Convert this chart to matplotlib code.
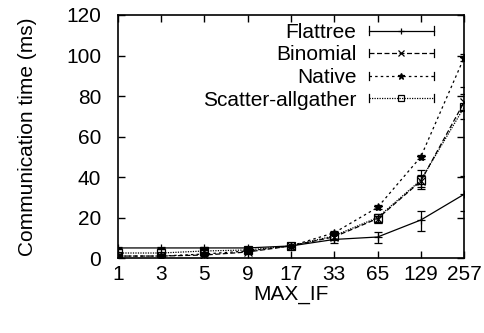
import matplotlib.pyplot as plt
import numpy as np
from matplotlib.legend_handler import HandlerLine2D
from matplotlib.lines import Line2D

plt.rcParams['font.family'] = ['Liberation Sans', 'DejaVu Sans']

# MAX_IF values (equally spaced categories)
max_if = ['1', '3', '5', '9', '17', '33', '65', '129', '257']

# communication time (ms)
flattree = [5.0, 5.0, 5.0, 5.0, 6.0, 9.2, 10.4, 18.8, 31.5]
flattree_lo = [0.5, 0.5, 0.5, 0.5, 0.5, 2.0, 3.0, 5.5, 8.5]
flattree_hi = [0.5, 0.5, 0.5, 0.5, 0.5, 2.5, 2.5, 4.5, 9.0]

binomial = [1.0, 1.0, 1.5, 3.0, 6.0, 10.5, 19.5, 38.0, 77.0]
binomial_err = [0.5, 0.5, 0.5, 0.5, 0.5, 1.0, 1.5, 3.0, 4.0]

native = [1.0, 1.0, 2.0, 3.5, 6.0, 12.5, 25.0, 50.0, 99.0]
native_err = [0.3, 0.3, 0.3, 0.5, 0.5, 0.8, 1.0, 1.0, 1.5]

scatter = [2.5, 2.5, 3.5, 4.0, 6.0, 11.0, 20.0, 38.5, 74.5]
scatter_lo = [0.5, 0.5, 0.5, 0.5, 0.5, 1.5, 2.5, 4.5, 6.0]
scatter_hi = [0.5, 0.5, 0.5, 0.5, 0.5, 1.5, 2.0, 5.0, 10.0]

x = np.arange(len(max_if))


# gnuplot-style legend sample: line with end bars and a centre marker
class HandlerCapLine(HandlerLine2D):
    def create_artists(self, legend, orig_handle, xdescent, ydescent,
                       width, height, fontsize, trans):
        artists = super().create_artists(legend, orig_handle, xdescent,
                                         ydescent, width, height, fontsize,
                                         trans)
        y = (height - ydescent) / 2
        for xe in (-xdescent, width - xdescent):
            cap = Line2D([xe, xe], [y - 3, y + 3], color='black',
                         linewidth=0.9, transform=trans)
            artists.append(cap)
        return artists


fig = plt.figure(figsize=(4.85, 3.33), dpi=100)
ax = fig.add_axes([0.243, 0.225, 0.714, 0.730])

kw = dict(color='black', linewidth=0.9, capsize=3, elinewidth=0.9,
          capthick=0.9, markersize=6, markeredgewidth=0.9)

styles = [('+', '-', 'black'), ('x', (0, (4, 2)), 'black'),
          ('*', (0, (2, 2.5)), 'black'), ('s', (0, (1, 1)), 'none')]

ax.errorbar(x, flattree, yerr=[flattree_lo, flattree_hi], fmt='+',
            linestyle=styles[0][1], **kw)
ax.errorbar(x, binomial, yerr=binomial_err, fmt='x', linestyle=styles[1][1],
            **kw)
ax.errorbar(x, native, yerr=native_err, fmt='*', linestyle=styles[2][1],
            markerfacecolor='black', **kw)
ax.errorbar(x, scatter, yerr=[scatter_lo, scatter_hi], fmt='s',
            linestyle=styles[3][1], markerfacecolor='none', **kw)

labels = ['Flattree', 'Binomial', 'Native', 'Scatter-allgather']
handles = [Line2D([], [], color='black', linewidth=0.9, marker=m,
                  linestyle=ls, markerfacecolor=fc, markersize=5,
                  markeredgewidth=0.9)
           for m, ls, fc in styles]

fs = 15
ax.set_xlim(0, len(max_if) - 1)
ax.set_ylim(0, 120)
ax.set_xticks(x)
ax.set_xticklabels(max_if)
ax.set_yticks(np.arange(0, 121, 20))
ax.tick_params(direction='in', top=True, right=True, length=5, width=1,
               labelsize=fs)
ax.tick_params(axis='x', pad=5)
ax.tick_params(axis='y', pad=12)
for s in ax.spines.values():
    s.set_linewidth(1.2)
ax.set_xlabel('MAX_IF', fontsize=fs, labelpad=1)
ax.set_ylabel('Communication time (ms)', fontsize=fs, labelpad=21)

leg = ax.legend(handles, labels, loc='upper right',
                bbox_to_anchor=(0.96, 1.036), frameon=False,
                markerfirst=False, fontsize=fs, handlelength=3.1,
                labelspacing=0.17, handletextpad=0.6, borderpad=0.3,
                handler_map={Line2D: HandlerCapLine(numpoints=1)})

plt.savefig('out.png', dpi=100)
